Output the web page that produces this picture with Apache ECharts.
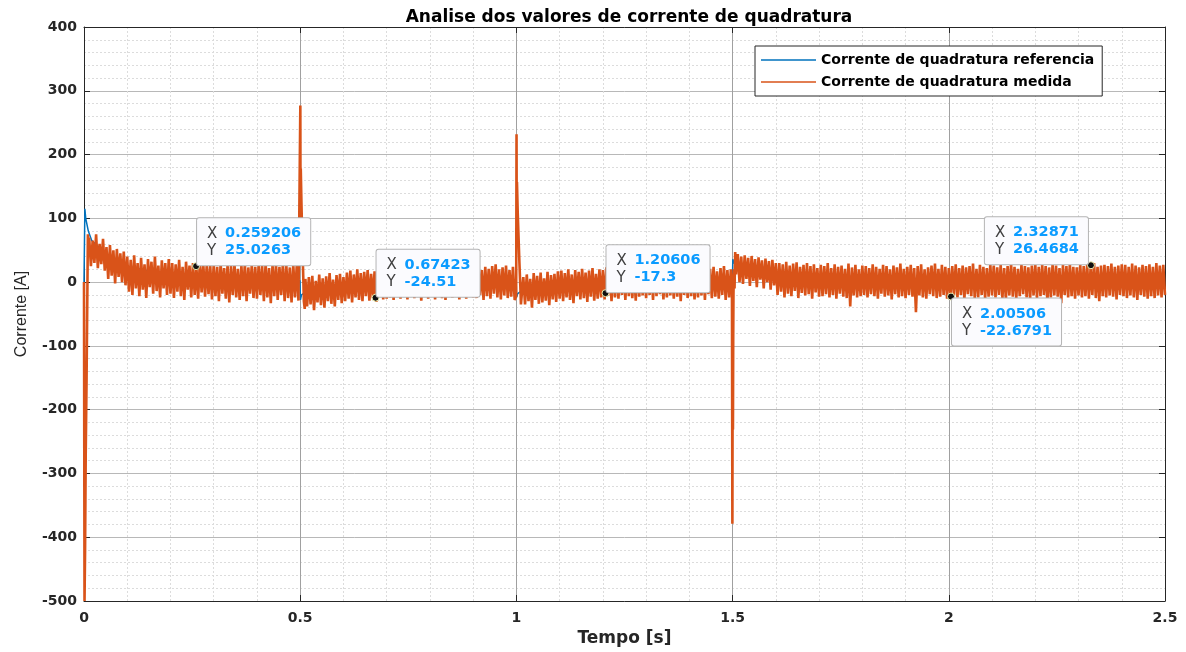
<!DOCTYPE html>
<html>
<head>
<meta charset="utf-8">
<script src="https://cdn.jsdelivr.net/npm/echarts@6/dist/echarts.min.js"></script>
<style>html,body{margin:0;padding:0;background:#fff}#c{width:1186px;height:652px}</style>
</head>
<body>
<div id="c"></div>
<script>
// ---------- DATA ----------
const titleText = 'Analise dos valores de corrente de quadratura';
const xName = 'Tempo [s]';
const yName = 'Corrente [A]';
const refName = 'Corrente de quadratura referencia';
const medName = 'Corrente de quadratura medida';

// reference current (blue)
const refT = [0, 0.0015, 0.002, 0.004, 0.01, 0.018, 0.05, 0.1, 0.2, 0.3, 0.4995, 0.5005, 0.503, 0.52, 0.6, 0.9995, 1.0005, 1.003, 1.02, 1.1, 1.4995, 1.5005, 1.503, 1.52, 1.6, 1.8, 2.0, 2.5];
const refI = [0, 0, 115, 100, 80, 65, 45, 25, 10, 4, 2, -28, -20, -12, -4, 0, -24, -18, -10, -3, 0, 36, 30, 20, 10, 4, 2, 1];

// measured current (orange): transients as [t, value] pairs, noisy segments sampled every 4 ms
const sampleStep = 0.004;
const startPairs = [[0, 0], [0.0012, -500], [0.0025, -420], [0.004, -270], [0.006, -150], [0.009, 75], [0.011, 40]];
const segAStart = 0.012;
const segA = [70, 25, 65, 30, 75, 22, 60, 28, 68, 18,
  55, 5, 58, 10, 50, -2, 52, 8, 45, 0, 48, -5,
  40, -15, 35, -20, 42, -10, 30, -22, 38, -12, 28, -25, 36, -8, 32, -18, 40, -14, 26, -24, 34, -10, 30, -20, 36,
  -18, 30, -25, 28, -15, 35, -22, 24, -28, 32, -12, 26, -24, 30, -20, 22, -26, 33, -16, 27, -23, 29, -19, 25, -27,
  28, -22, 24, -30, 30, -18, 22, -26, 27, -32, 25, -20, 29, -24, 21, -28, 26, -22, 30, -30, 23, -18, 27, -25, 24,
  -26, 28, -20, 25, -30, 30, -24, 22, -33, 27, -22, 29, -28, 24, -20, 30, -30, 26, -25, 23, -32, 28, -24, 26, -29];
const spike05 = [[0.4995, -28], [0.5003, 277], [0.5008, 90], [0.5013, 178], [0.503, 120], [0.505, 60], [0.507, 10], [0.5085, -30], [0.5105, -42]];
const segBStart = 0.512;
const segB = [5, -38, 8, -35, 10, -44, 2, -32, 12, -36, 6, -40, 9, -30, 14, -34, 4, -38, 11, -28, 13, -33, 8,
  -30, 15, -26, 18, -32, 12, -24, 20, -28, 14, -30, 16, -22, 19, -29, 13, -25, 17, -31, 15, -23, 21, -27, 12, -26,
  20, -24, 18, -28, 22, -20, 16, -26, 24, -22, 19, -27, 21, -18, 25, -25, 17, -23, 20, -29, 22, -21, 18, -26, 23,
  -22, 20, -27, 24, -19, 18, -25, 22, -28, 19, -21, 26, -24, 17, -20, 23, -27, 21, -23, 18, -26, 25, -19, 20, -24,
  22, -25, 27, -20, 19, -28, 24, -22, 21, -26, 25, -18, 28, -24, 20, -27, 23, -21, 26, -25, 19, -23, 24, -28];
const spike10 = [[0.9995, -22], [1.0003, 232], [1.0008, 80], [1.0013, 157], [1.003, 110], [1.005, 70], [1.007, 30], [1.009, -5], [1.0105, -35]];
const segCStart = 1.012;
const segC = [-38, 8, -35, 12, -30, 5, -40, 14, -28, 10, -34, 15, -32, 6, -29, 16, -36, 11, -27, 13, -31, 17,
  -26, 18, -30, 14, -24, 20, -28, 12, -33, 19, -22, 16, -27, 21, -25, 15, -31, 18, -23, 22, -29, 13, -26, 20, -24,
  19, -27, 23, -21, 17, -30, 22, -24, 20, -26, 25, -20, 18, -28, 24, -22, 21, -25, 19, -29, 26, -23, 17, -21, 22,
  -25, 24, -20, 18, -28, 23, -22, 26, -19, 20, -27, 22, -24, 25, -21, 17, -26, 24, -23, 19, -30, 21, -20, 27, -25,
  22, -22, 18, -27, 25, -24, 20, -21, 23, -28, 26, -19, 21, -25, 24, -23, 17, -26, 22, -20, 25, -28, 19, -24, 20];
const dip15 = [[1.4985, -10], [1.4995, -379], [1.5003, -60], [1.5008, -231], [1.5014, -94], [1.502, -20], [1.503, 20], [1.5045, -10], [1.506, 47], [1.508, 12], [1.51, 40]];
const segDStart = 1.512;
const segD = [44, 0, 40, -3, 42, 5, 38, -6, 41, 2, 36, -8, 39, 4, 34, -10, 37, 0, 33, -12, 35, -5, 30,
  -20, 30, -15, 28, -24, 32, -18, 26, -22, 29, -14, 31, -25, 24, -17, 27, -21, 30, -19, 25, -26, 28, -16, 22, -23,
  27, -22, 25, -19, 30, -24, 22, -20, 28, -26, 24, -18, 26, -23, 21, -25, 29, -38, 23, -21, 27, -24, 20, -22, 26,
  -20, 25, -24, 22, -19, 28, -22, 24, -26, 21, -18, 27, -23, 25, -21, 20, -27, 26, -19, 23, -24, 29, -22, 21, -25,
  24, -20, 27, -23, 22, -47, 25, -21, 28, -24, 20, -26, 23, -19, 26, -22, 29, -25, 21, -23, 27, -20, 24, -26, 22,
  -23, 25, -21, 28, -24, 22, -20, 26, -27, 23, -19, 25, -22, 29, -25, 21, -24, 27, -20, 24, -26, 22, -23, 28, -21,
  26, -24, 23, -20, 27, -25, 22, -28, 25, -21, 29, -23, 24, -26, 21, -22, 27, -19, 25, -24, 23, -27, 26, -21, 28,
  -25, 24, -22, 27, -20, 25, -31, 23, -24, 28, -21, 26, -23, 22, -33, 27, -20, 25, -24, 29, -22, 24, -26, 23, -21,
  27, -24, 25, -22, 28, -26, 23, -20, 30, -25, 24, -30, 26, -22, 27, -24, 25, -21, 29, -23, 24, -27, 26, -20, 28,
  -22, 27, -25, 24, -21, 29, -24, 26, -28, 23, -20, 27, -23, 25, -26, 28, -22, 24, -25, 30, -21, 26, -24, 27, -20];

// data tips
const tipX = [0.259206, 0.67423, 1.20606, 2.00506, 2.32871];
const tipY = [25.0263, -24.51, -17.3, -22.6791, 26.4684];

// axis settings
const xMin = 0, xMax = 2.5, xStep = 0.5;
const yMin = -500, yMax = 400, yStep = 100;

// ---------- BUILD ----------
function seg(start, vals) { return vals.map((v, i) => [+(start + i * sampleStep).toFixed(4), v]); }
const medData = [].concat(startPairs, seg(segAStart, segA), spike05, seg(segBStart, segB), spike10,
  seg(segCStart, segC), dip15, seg(segDStart, segD));
const refData = refT.map((t, i) => [t, refI[i]]);

const tipPlace = ['ne', 'ne', 'ne', 'se', 'nw'];
const tipData = tipX.map((x, i) => {
  const p = tipPlace[i];
  const label = {
    position: p === 'nw' ? [1, 3] : (p === 'se' ? [5, 6] : [5, 3]),
    align: p === 'nw' ? 'right' : 'left',
    verticalAlign: p === 'se' ? 'top' : 'bottom'
  };
  return { value: [x, tipY[i]], label };
});

const FONT = 'DejaVu Sans';
const blue = '#0072BD', orange = '#D95319';
const lineIcon = 'path://M0,0 L60,0 L60,1.6 L0,1.6 Z';

const chart = echarts.init(document.getElementById('c'), null, { renderer: 'canvas' });
const axisBase = {
  axisLine: { show: true, onZero: false, lineStyle: { color: '#262626', width: 1 } },
  axisTick: { show: true, inside: true, length: 6, lineStyle: { color: '#262626' } },
};
chart.setOption({
  animation: false,
  backgroundColor: '#ffffff',
  title: {
    text: titleText, left: 624, top: 4, textAlign: 'center',
    textStyle: { fontFamily: FONT, fontSize: 17, fontWeight: 'bold', color: '#000' }
  },
  grid: { left: 84, right: 21, top: 27, bottom: 46, containLabel: false },
  legend: {
    data: [{ name: refName, icon: lineIcon }, { name: medName, icon: lineIcon }],
    orient: 'vertical', left: 755, top: 46,
    padding: [7, 8, 7, 6], itemGap: 8, itemWidth: 55, itemHeight: 14,
    backgroundColor: '#ffffff', borderColor: '#262626', borderWidth: 1,
    textStyle: { fontFamily: FONT, fontSize: 14, fontWeight: 'bold', color: '#000' }
  },
  xAxis: [
    Object.assign({
      type: 'value', min: xMin, max: xMax, interval: xStep, position: 'bottom',
      name: xName, nameLocation: 'middle', nameGap: 29,
      nameTextStyle: { fontFamily: FONT, fontSize: 17, fontWeight: 'bold', color: '#262626' },
      axisLabel: { fontFamily: FONT, fontSize: 14, fontWeight: 'bold', color: '#262626', margin: 10 },
      minorTick: { show: false, splitNumber: 5 },
      splitLine: { show: true, lineStyle: { color: '#a0a0a0', width: 1 } },
      minorSplitLine: { show: true, lineStyle: { color: '#dcdcdc', width: 1, type: [2, 2] } }
    }, axisBase),
    Object.assign({
      type: 'value', min: xMin, max: xMax, interval: xStep, position: 'top',
      axisLabel: { show: false }, splitLine: { show: false }
    }, axisBase)
  ],
  yAxis: [
    Object.assign({
      type: 'value', min: yMin, max: yMax, interval: yStep, position: 'left',
      name: yName, nameLocation: 'middle', nameGap: 54,
      nameTextStyle: { fontFamily: 'Liberation Sans', fontSize: 16, color: '#262626' },
      axisLabel: { fontFamily: FONT, fontSize: 14, fontWeight: 'bold', color: '#262626', margin: 7 },
      minorTick: { show: false, splitNumber: 5 },
      splitLine: { show: true, lineStyle: { color: '#b8b8b8', width: 1 } },
      minorSplitLine: { show: true, lineStyle: { color: '#dcdcdc', width: 1, type: [2, 2] } }
    }, axisBase),
    Object.assign({
      type: 'value', min: yMin, max: yMax, interval: yStep, position: 'right',
      axisLabel: { show: false }, splitLine: { show: false }
    }, axisBase)
  ],
  series: [
    {
      name: refName, type: 'line', data: refData, showSymbol: false, symbol: 'none',
      lineStyle: { color: blue, width: 1.5 }, itemStyle: { color: blue }, z: 2
    },
    {
      name: medName, type: 'line', data: medData, showSymbol: false, symbol: 'none',
      lineStyle: { color: orange, width: 2.6, join: 'bevel' }, itemStyle: { color: orange }, z: 3
    },
    {
      name: 'tips', type: 'scatter', data: tipData, symbol: 'circle', symbolSize: 7,
      itemStyle: { color: '#111111', borderColor: '#f0f0b0', borderWidth: 1, opacity: 1 }, z: 10,
      label: {
        show: true,
        formatter: p => '{k|X}{v|' + p.value[0] + '}\n{k|Y}{v|' + p.value[1] + '}',
        backgroundColor: '#fbfbfe', borderColor: '#b4b4b4', borderWidth: 1, borderRadius: 2,
        padding: [7, 9, 6, 10],
        rich: {
          k: { fontFamily: FONT, fontSize: 15, color: '#404040', width: 18, lineHeight: 17, align: 'left' },
          v: { fontFamily: FONT, fontSize: 14.5, fontWeight: 'bold', color: '#0a9bff', lineHeight: 17, align: 'left' }
        }
      }
    }
  ]
});
</script>
</body>
</html>
